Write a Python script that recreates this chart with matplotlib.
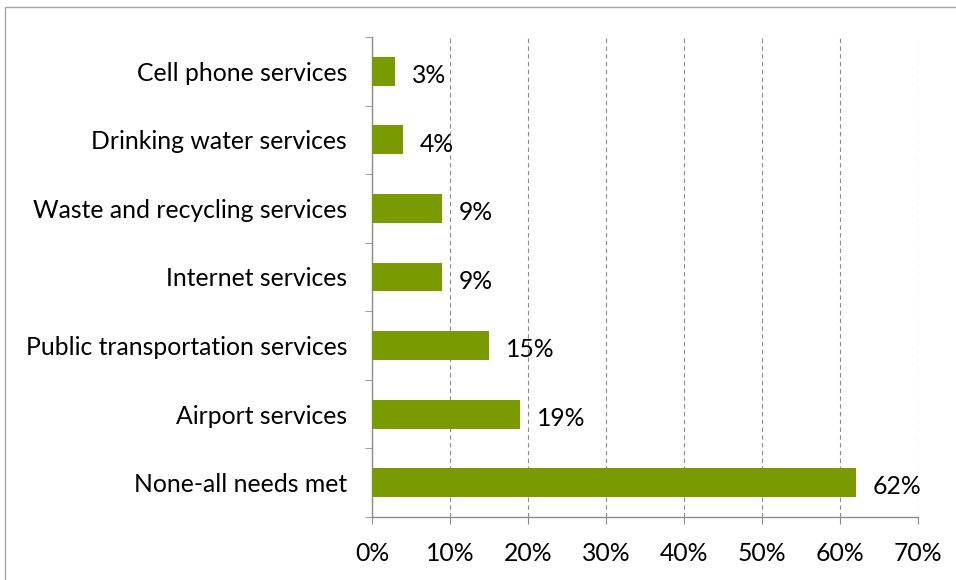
import numpy as np
import matplotlib.pyplot as plt
from matplotlib.patches import Rectangle
from matplotlib.ticker import FixedLocator, PercentFormatter

plt.rcParams['font.family'] = ['Lato', 'DejaVu Sans']

categories = ['None-all needs met', 'Airport services', 'Public transportation services',
              'Internet services', 'Waste and recycling services', 'Drinking water services',
              'Cell phone services']
values = [62, 19, 15, 9, 9, 4, 3]
xticks = [0, 10, 20, 30, 40, 50, 60, 70]

bar_color = '#7a9a01'
grid_color = '#8c8c8c'
fs = 17.8

fig = plt.figure(figsize=(9.56, 5.8), dpi=100)
# outer chart frame (cropped at right and bottom)
fig.patches.append(Rectangle((5 / 956, -0.1), 1.1, 1.1 - 7 / 580,
                             transform=fig.transFigure, fill=False,
                             edgecolor='#a6a6a6', linewidth=1.0))

ax = fig.add_axes([372 / 956, 1 - 517 / 580, 546 / 956, 480 / 580])
y = np.arange(len(categories))
ax.barh(y, values, height=0.42, color=bar_color, zorder=3)

ax.set_xlim(0, 70)
ax.set_ylim(-0.5, len(categories) - 0.5)
ax.set_xticks(xticks)
ax.xaxis.set_major_formatter(PercentFormatter(decimals=0))
ax.set_yticks(y)
ax.set_yticklabels(categories)
ax.yaxis.set_minor_locator(FixedLocator(np.arange(-0.5, len(categories), 1)))

ax.tick_params(axis='y', which='major', length=0, pad=18, labelsize=fs)
ax.tick_params(axis='y', which='minor', length=5, color=grid_color, direction='out')
ax.tick_params(axis='x', length=5, color=grid_color, pad=13, labelsize=fs)

ax.grid(axis='x', linestyle=(0, (4, 3)), color=grid_color, linewidth=0.8, zorder=0)
for s in ['top', 'right']:
    ax.spines[s].set_visible(False)
for s in ['left', 'bottom']:
    ax.spines[s].set_color(grid_color)
    ax.spines[s].set_linewidth(1.0)

for yi, v in zip(y, values):
    ax.annotate(f'{v}%', (v, yi), xytext=(12, -3), textcoords='offset points',
                va='center', ha='left', fontsize=fs)

fig.savefig('out.png', dpi=100)
